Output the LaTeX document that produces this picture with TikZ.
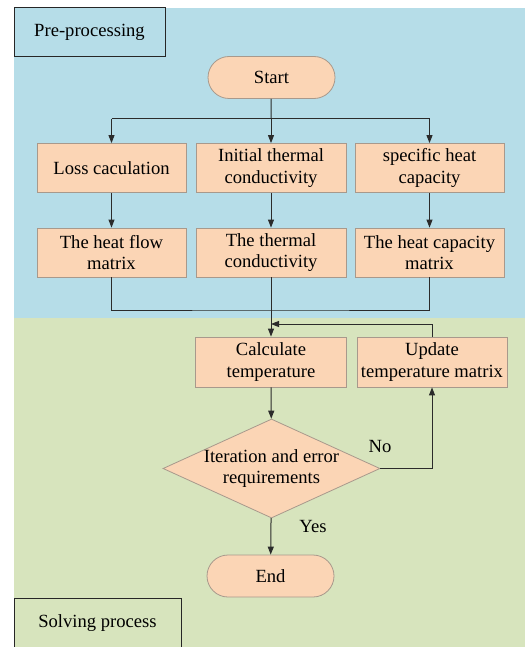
\documentclass[tikz,border=0pt]{standalone}
\usepackage{fontspec}
\setmainfont{LiberationSerif}[Extension=.ttf,UprightFont=*-Regular,BoldFont=*-Bold,ItalicFont=*-Italic,BoldItalicFont=*-BoldItalic]
\usetikzlibrary{shapes.geometric,arrows.meta}
\definecolor{preblue}{HTML}{B6DDE8}
\definecolor{solgreen}{HTML}{D7E4BD}
\definecolor{boxfill}{HTML}{FBD5B5}
\definecolor{boxline}{HTML}{A8998C}
\definecolor{wire}{HTML}{2B2B2B}
\begin{document}
\begin{tikzpicture}[x=1pt,y=-1pt,
  font=\rmfamily\fontsize{18.6}{21.5}\selectfont,
  procbox/.style={rectangle,draw=boxline,fill=boxfill,line width=0.8pt,
    minimum width=149pt,minimum height=49pt,inner sep=0pt,align=center},
  termbox/.style={rectangle,draw=boxline,fill=boxfill,line width=0.8pt,
    rounded corners=21pt,minimum width=127pt,minimum height=42pt,inner sep=0pt},
  decbox/.style={diamond,draw=boxline,fill=boxfill,line width=0.8pt,
    minimum width=217pt,minimum height=99pt,inner sep=0pt},
  tagbox/.style={rectangle,draw=black!85,line width=1pt,inner sep=0pt},
  wireline/.style={draw=wire,line width=1pt},
  arrow/.style={wireline,-{Triangle[length=8pt,width=6pt]}}]
\useasboundingbox (0,0) rectangle (525,647);
% backgrounds
\fill[preblue] (14,8) rectangle (525,318);
\fill[solgreen] (14,318) rectangle (525,647);
% region tags
\node[tagbox,minimum width=151pt,minimum height=49pt] (pre) at (89.5,32.5) {Pre-processing};
\node[tagbox,minimum width=167pt,minimum height=50pt] (sol) at (97.5,623) {Solving process};
% nodes
\node[termbox] (start) at (271.5,77.5) {Start};
\node[procbox] (b1) at (111.5,168) {Loss caculation};
\node[procbox,minimum width=150pt] (b2) at (271,168) {Initial thermal\\conductivity};
\node[procbox] (b3) at (429.5,168) {specific heat\\capacity};
\node[procbox] (a1) at (111.5,252.5) {The heat flow\\matrix};
\node[procbox,minimum width=150pt] (a2) at (271,252.5) {The thermal\\conductivity};
\node[procbox] (a3) at (429.5,252.5) {The heat capacity\\matrix};
\node[procbox,minimum width=151pt,minimum height=50pt] (calc) at (271,362) {Calculate\\temperature};
\node[procbox,minimum width=150pt,minimum height=50pt] (upd) at (432,362) {Update\\temperature matrix};
\node[decbox] (dec) at (271.5,468.5) {};
\node[align=center] (dectext) at (dec.center) {Iteration and error\\requirements};
\node[termbox] (end) at (270.5,576) {End};
\node (no) at (380,446) {No};
\node (yes) at (313,526) {Yes};
% coordinates
\coordinate (bus) at (271,119);
\coordinate (join) at (271,310);
\coordinate (fb) at (271,324);
% connectors
\draw[wireline] (start) -- (bus);
\draw[wireline] (bus -| b1) -- (bus -| b3);
\draw[arrow] (bus -| b1) -- (b1);
\draw[arrow] (bus) -- (b2);
\draw[arrow] (bus -| b3) -- (b3);
\draw[arrow] (b1) -- (a1);
\draw[arrow] (b2) -- (a2);
\draw[arrow] (b3) -- (a3);
\draw[wireline] (a1) |- (join) -| (a3);
\draw[arrow] (a2) -- (calc);
\draw[arrow] (upd.north) |- (fb);
\draw[arrow] (calc) -- (dec);
\draw[arrow] (dec.east) -| (upd.south);
\draw[arrow] (dec) -- (end);
\end{tikzpicture}
\end{document}
